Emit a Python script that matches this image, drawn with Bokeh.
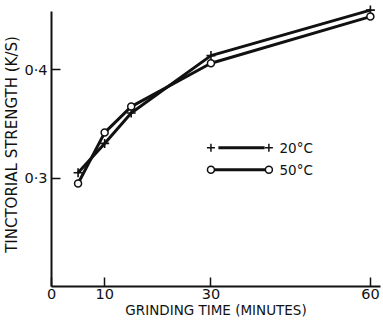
from bokeh.plotting import figure
from bokeh.models import Range1d, FixedTicker
from bokeh.core.properties import value
from bokeh.embed import file_html
from bokeh.resources import INLINE

# Tinctorial strength against grinding time at two temperatures
minutes = [5, 10, 15, 30, 60]
k_s_20c = [0.305, 0.332, 0.360, 0.413, 0.455]
k_s_50c = [0.295, 0.342, 0.366, 0.406, 0.449]

x_ticks = [0, 10, 30, 60]
y_ticks = [0.3, 0.4]
y_tick_labels = {0.3: "0·3", 0.4: "0·4"}

series_names = ["20°C", "50°C"]

INK = "#111111"
FONT = "DejaVu Sans"

p = figure(width=383, height=321, output_backend="svg", toolbar_location=None,
           x_range=Range1d(0, 61.9), y_range=Range1d(0.2, 0.462),
           min_border_left=51, min_border_right=3, min_border_top=2, min_border_bottom=35)
p.outline_line_color = None
p.xgrid.grid_line_color = None
p.ygrid.grid_line_color = None
p.background_fill_color = "white"
p.border_fill_color = "white"

for ax in (p.xaxis[0], p.yaxis[0]):
    ax.axis_line_color = INK
    ax.axis_line_width = 2
    ax.major_tick_line_color = INK
    ax.major_tick_line_width = 1.5
    ax.major_tick_in = 9
    ax.major_tick_out = 0
    ax.minor_tick_line_color = None
    ax.major_label_text_font = FONT
    ax.major_label_text_font_size = "14.5px"
    ax.major_label_text_color = INK
    ax.axis_label_text_font = FONT
    ax.axis_label_text_font_style = "normal"
    ax.axis_label_text_color = INK

p.xaxis.ticker = FixedTicker(ticks=x_ticks)
p.xaxis.major_label_standoff = 2
p.xaxis.axis_label = "GRINDING TIME (MINUTES)"
p.xaxis.axis_label_text_font_size = "13.5px"
p.xaxis.axis_label_standoff = 0

p.yaxis.ticker = FixedTicker(ticks=y_ticks)
p.yaxis.major_label_overrides = y_tick_labels
p.yaxis.major_label_standoff = 4
p.yaxis.bounds = (0.2, 0.4533)
p.yaxis.axis_label = "TINCTORIAL STRENGTH (K/S)"
p.yaxis.axis_label_text_font_size = "15px"
p.yaxis.axis_label_standoff = 0

# data curves
p.line(minutes, k_s_20c, line_color=INK, line_width=3)
p.line(minutes, k_s_50c, line_color=INK, line_width=3)
p.scatter(minutes, k_s_20c, marker="cross", size=9, line_color=INK, line_width=1.6)
p.scatter(minutes, k_s_50c, marker="circle", size=7, fill_color="white",
          line_color=INK, line_width=1.5)

# key
key_x0, key_x1, key_text_x = 30.0, 40.9, 42.9
key_rows = [0.328, 0.3077]
p.line([key_x0 + 1.4, key_x1 - 0.8], [key_rows[0]] * 2, line_color=INK, line_width=3)
p.scatter([key_x0, key_x1], [key_rows[0]] * 2, marker="cross", size=8,
          line_color=INK, line_width=1.5)
p.line([key_x0, key_x1], [key_rows[1]] * 2, line_color=INK, line_width=3)
p.scatter([key_x0, key_x1], [key_rows[1]] * 2, marker="circle", size=7,
          fill_color="white", line_color=INK, line_width=1.5)
p.text([key_text_x] * 2, key_rows, text=series_names, text_font=value(FONT),
       text_font_size="13.5px", text_color=INK, text_baseline="middle", text_align="left")

open("out.html", "w").write(file_html(p, INLINE))
